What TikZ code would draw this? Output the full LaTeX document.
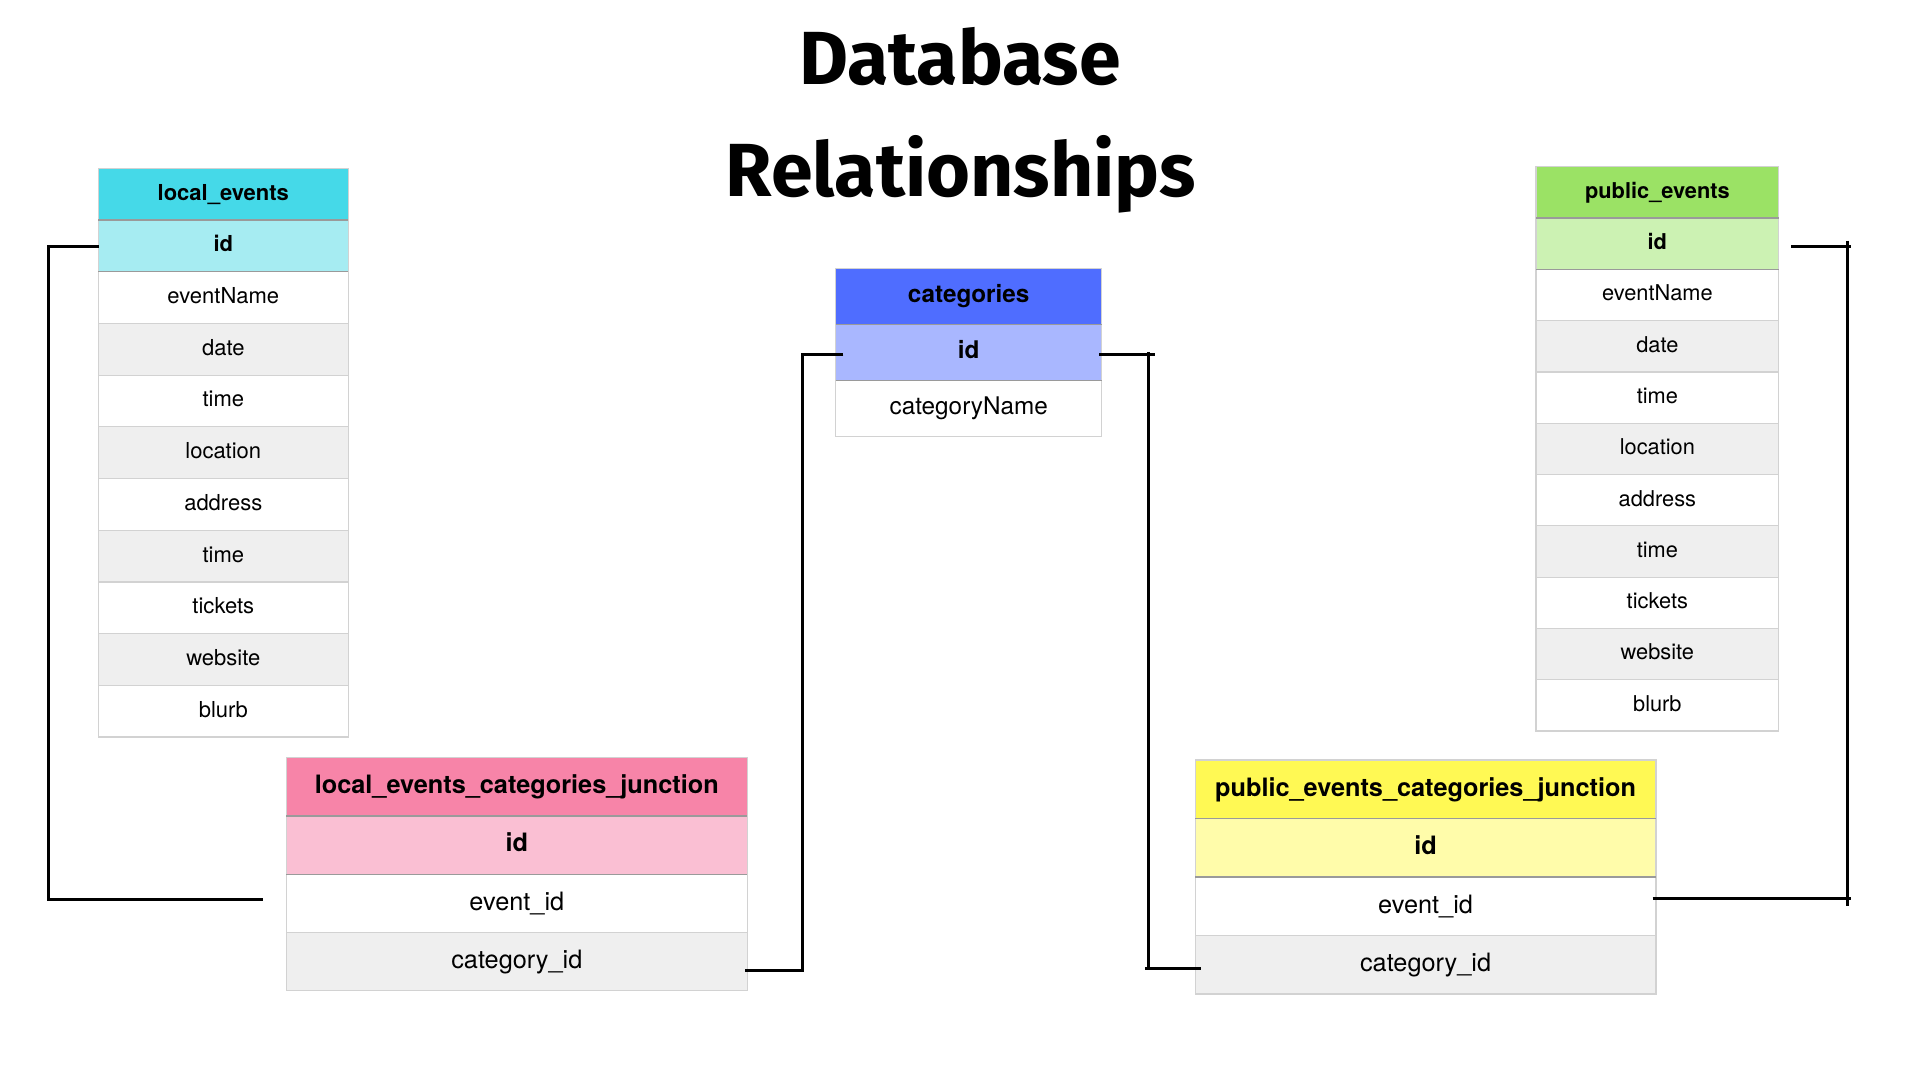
\documentclass[tikz,border=0pt]{standalone}
\usepackage{fontspec}
\setmainfont{TeX Gyre Heros}
\newfontfamily\titlefont{Fira Sans}
\usetikzlibrary{calc}
\definecolor{rowgray}{HTML}{EFEFEF}
\definecolor{cellborder}{HTML}{D2D2D2}
\definecolor{sepgray}{HTML}{9A9A9A}
\definecolor{lehead}{HTML}{45D9E8}
\definecolor{leid}{HTML}{A6ECF2}
\definecolor{pehead}{HTML}{9BE265}
\definecolor{peid}{HTML}{CCF2B3}
\definecolor{cathead}{HTML}{4F6DFF}
\definecolor{catid}{HTML}{A9B7FF}
\definecolor{ljhead}{HTML}{F784A8}
\definecolor{ljid}{HTML}{FABFD3}
\definecolor{pjhead}{HTML}{FFF954}
\definecolor{pjid}{HTML}{FFFCAA}
% #1 prefix, #2 left x, #3 top y, #4 width, #5 row height, #6 font size, #7 head colour, #8 id colour, #9 header
\newcommand\dbtable[9]{%
  \pgfmathsetmacro\tabth{0.54*#6}%
  \node[cell, fill=#7, minimum width=#4pt, minimum height=#5pt, text height=\tabth pt,
        font=\fontsize{#6}{#6}\selectfont\bfseries] (#1-h) at ({#2+#4/2},{#3+0.5*#5}) {#9};
  \node[cell, fill=#8, minimum width=#4pt, minimum height=#5pt, text height=\tabth pt,
        font=\fontsize{#6}{#6}\selectfont\bfseries] (#1-id) at ({#2+#4/2},{#3+1.5*#5}) {id};
}
% #1 prefix, #2 left, #3 top, #4 width, #5 row height, #6 font size, #7 list
\newcommand\dbfields[7]{%
  \pgfmathsetmacro\tabth{0.54*#6}%
  \foreach \f [count=\i] in {#7} {%
    \ifodd\i \def\rowfill{white}\else\def\rowfill{rowgray}\fi
    \node[cell, fill=\rowfill, minimum width=#4pt, minimum height=#5pt, text height=\tabth pt,
          font=\fontsize{#6}{#6}\selectfont] (#1-\i) at ({#2+#4/2},{#3+(\i+1.5)*#5}) {\f};
  }%
  \draw[sepline] (#1-h.south west) -- (#1-h.south east);
  \draw[sepline] (#1-id.south west) -- (#1-id.south east);
}
\begin{document}
\begin{tikzpicture}[x=1pt,y=-1pt,
  cell/.style={draw=cellborder, line width=1.2pt, inner sep=0pt, outer sep=0pt,
               text depth=0pt, text=black},
  sepline/.style={draw=sepgray, line width=1.2pt},
  conn/.style={line width=3pt, black},
  ttl/.style={font=\titlefont\bfseries\fontsize{75.3}{76}\selectfont, anchor=base, inner sep=0pt}]
\fill[white] (0,0) rectangle (1920,1080);
\useasboundingbox (0,0) rectangle (1920,1080);

% title
\node[ttl] (t1) at (960,84) {Database};
\node[ttl] (t2) at (961,196) {Relationships};

% tables
\dbtable{le}{98.3}{168.3}{250}{51.7}{22}{lehead}{leid}{local\_events}
\dbfields{le}{98.3}{168.3}{250}{51.7}{22}{eventName,date,time,location,address,time,tickets,website,blurb}

\dbtable{pe}{1536}{166.7}{242.7}{51.3}{21.8}{pehead}{peid}{public\_events}
\dbfields{pe}{1536}{166.7}{242.7}{51.3}{21.8}{eventName,date,time,location,address,time,tickets,website,blurb}

\dbtable{cat}{835.7}{268.3}{266}{56}{24.3}{cathead}{catid}{categories}
\dbfields{cat}{835.7}{268.3}{266}{56}{24.3}{categoryName}

\dbtable{lj}{286.2}{757.7}{461.2}{58.25}{25.3}{ljhead}{ljid}{local\_events\_categories\_junction}
\dbfields{lj}{286.2}{757.7}{461.2}{58.25}{25.3}{event\_id,category\_id}

\dbtable{pj}{1195.2}{760}{460.7}{58.5}{25.3}{pjhead}{pjid}{public\_events\_categories\_junction}
\dbfields{pj}{1195.2}{760}{460.7}{58.5}{25.3}{event\_id,category\_id}

% connectors
\draw[conn] ([xshift=0.7pt,yshift=-0.75pt]le-id.west) -- ++(-50.5,0) |- ([xshift=-23.4pt,yshift=4.3pt]lj-1.west);
\draw[conn] ([xshift=7.6pt,yshift=-2.2pt]cat-id.west) -- ++(-40.5,0) |- ([xshift=-2.4pt,yshift=-9.1pt]lj-2.east);

\draw[conn] ([xshift=-2.7pt,yshift=-2.2pt]cat-id.east) coordinate (c3) -- ++(56,0);
\draw[conn] ($(c3)+(49.3,-2.6)$) -- ($(c3)+(49.3,615.7)$);
\draw[conn] ([xshift=5.4pt,yshift=-3.95pt]pj-2.west) -- ++(-55.6,0);

\draw[conn] ([xshift=12.3pt,yshift=-3pt]pe-id.east) coordinate (c4) -- ++(60,0);
\draw[conn] ($(c4)+(56.4,-6)$) -- ($(c4)+(56.4,659)$);
\draw[conn] ([xshift=-3.4pt,yshift=7.55pt]pj-1.east) -- ++(198.5,0);
\end{tikzpicture}
\end{document}
